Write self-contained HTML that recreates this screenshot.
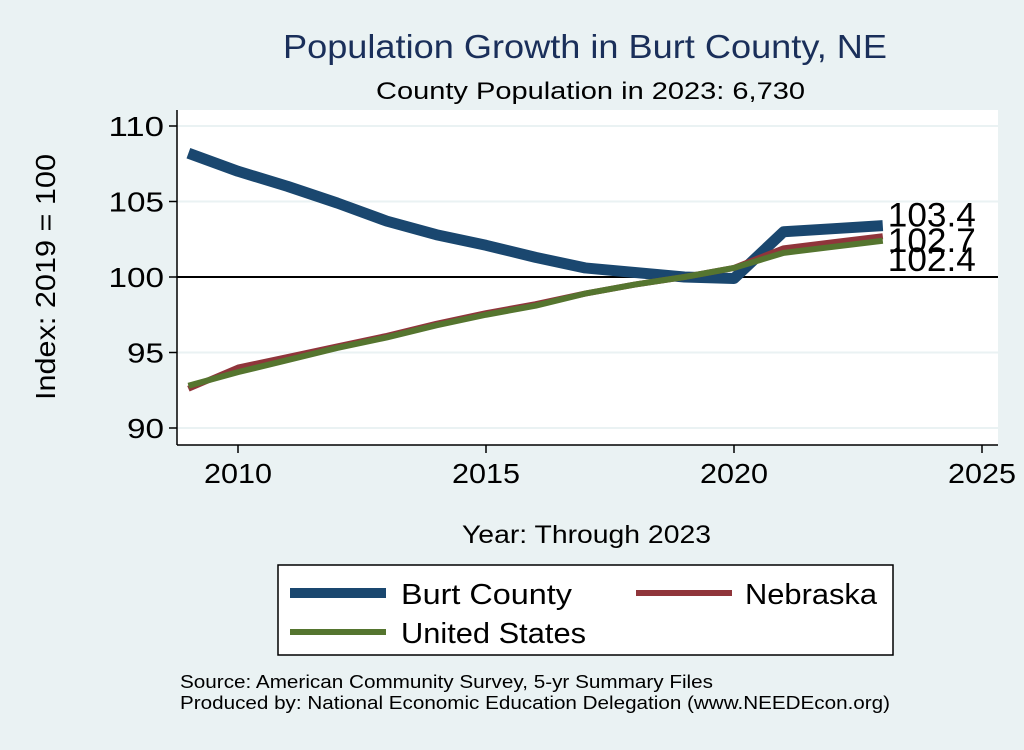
<!DOCTYPE html>
<html><head><meta charset="utf-8"><style>
body{margin:0;background:#eaf2f3;font-family:"Liberation Sans",sans-serif}
svg text{font-family:"Liberation Sans",sans-serif}
</style></head><body>
<svg width="1024" height="745">
<rect width="1024" height="745" fill="#eaf2f3"/>
<text x="283" y="58" font-size="33" fill="#1a2f5a" textLength="604" lengthAdjust="spacingAndGlyphs">Population Growth in Burt County, NE</text>
<text x="376" y="99" font-size="24" textLength="429" lengthAdjust="spacingAndGlyphs">County Population in 2023: 6,730</text>
<rect x="177" y="110" width="821" height="335" fill="#fff"/>
<g id="grid"></g>
<g id="lines"></g>
<g id="axes"></g>
<text x="55" y="277" font-size="28" text-anchor="middle" textLength="246" lengthAdjust="spacingAndGlyphs" transform="rotate(-90 55 277)">Index: 2019 = 100</text>
<text x="462" y="543" font-size="25" textLength="249" lengthAdjust="spacingAndGlyphs">Year: Through 2023</text>
<g>
<rect x="278" y="565" width="615" height="90" fill="#fff" stroke="#000" stroke-width="1.5"/>
<line x1="290" y1="593" x2="386" y2="593" stroke="#1a476f" stroke-width="10"/>
<text x="401" y="604" font-size="29" textLength="171" lengthAdjust="spacingAndGlyphs">Burt  County</text>
<line x1="636" y1="593" x2="732" y2="593" stroke="#90353b" stroke-width="6"/>
<text x="745" y="604" font-size="29" textLength="132" lengthAdjust="spacingAndGlyphs">Nebraska</text>
<line x1="290" y1="632" x2="386" y2="632" stroke="#55752f" stroke-width="6"/>
<text x="401" y="643" font-size="29" textLength="185" lengthAdjust="spacingAndGlyphs">United States</text>
</g>
<text x="180" y="688" font-size="18" textLength="533" lengthAdjust="spacingAndGlyphs">Source: American Community Survey, 5-yr Summary Files</text>
<text x="180" y="709" font-size="18" textLength="710" lengthAdjust="spacingAndGlyphs">Produced by: National Economic Education Delegation (www.NEEDEcon.org)</text>
</svg>
<script>
const years=[2009,2010,2011,2012,2013,2014,2015,2016,2017,2018,2019,2020,2021,2022,2023];
const burt=[108.2,107.0,106.0,104.9,103.7,102.8,102.1,101.3,100.6,100.3,100.0,99.9,103.0,103.2,103.4];
const nebraska=[92.6,94.0,94.7,95.4,96.1,96.9,97.6,98.2,98.9,99.5,100.0,100.6,101.9,102.3,102.7];
const us=[92.8,93.7,94.5,95.3,96.0,96.8,97.5,98.1,98.9,99.5,100.0,100.6,101.6,102.0,102.4];
const yTicks=[90,95,100,105,110];
const xTicks=[2010,2015,2020,2025];
const NS="http://www.w3.org/2000/svg";
const xs=v=>238+(v-2010)*49.6;
const ys=v=>277-(v-100)*15.1;
function mk(t,a,p){const e=document.createElementNS(NS,t);for(const k in a)e.setAttribute(k,a[k]);p.appendChild(e);return e;}
const grid=document.getElementById('grid'),lines=document.getElementById('lines'),axes=document.getElementById('axes');
yTicks.forEach(v=>{
 const g=mk('line',{x1:177,x2:998,y1:ys(v),y2:ys(v),stroke:'#eaf2f3','stroke-width':2},grid);
 
 
 mk('line',{x1:169,x2:177,y1:ys(v),y2:ys(v),stroke:'#000','stroke-width':1.5},axes);
 const t=mk('text',{x:164,y:ys(v)+10,'font-size':28,'text-anchor':'end',textLength:String(v).length*18.5,lengthAdjust:'spacingAndGlyphs'},axes);t.textContent=v;
 
 
});
const ref=mk('line',{x1:177,x2:998,y1:ys(100),y2:ys(100),stroke:'#000','stroke-width':2},grid);


mk('line',{x1:177,x2:177,y1:110,y2:445,stroke:'#000','stroke-width':1.5},axes);
mk('line',{x1:177,x2:998,y1:445,y2:445,stroke:'#000','stroke-width':1.5},axes);
xTicks.forEach(v=>{
 mk('line',{x1:xs(v),x2:xs(v),y1:445,y2:453,stroke:'#000','stroke-width':1.5},axes);
 const t=mk('text',{x:xs(v),y:483,'font-size':28,'text-anchor':'middle',textLength:68,lengthAdjust:'spacingAndGlyphs'},axes);t.textContent=v;
 
 
});
function series(arr,col,w,name){
 const p=mk('polyline',{points:arr.map((v,i)=>xs(years[i])+','+ys(v)).join(' '),fill:'none',stroke:col,'stroke-width':w,'stroke-linejoin':'round'},lines);
 
 
}
series(burt,'#1a476f',11,'line-burt-county');
series(nebraska,'#90353b',6,'line-nebraska');
series(us,'#55752f',6,'line-united-states');
const last=years.length-1;
[[burt,-9],[nebraska,6],[us,20]].forEach(([a,dy],i)=>{
 const t=mk('text',{x:xs(years[last])+5,y:ys(a[last])+dy+10,'font-size':34,'textLength':88,'lengthAdjust':'spacingAndGlyphs'},lines);
 t.textContent=a[last].toFixed(1);
 
 
});
</script>
</body></html>
